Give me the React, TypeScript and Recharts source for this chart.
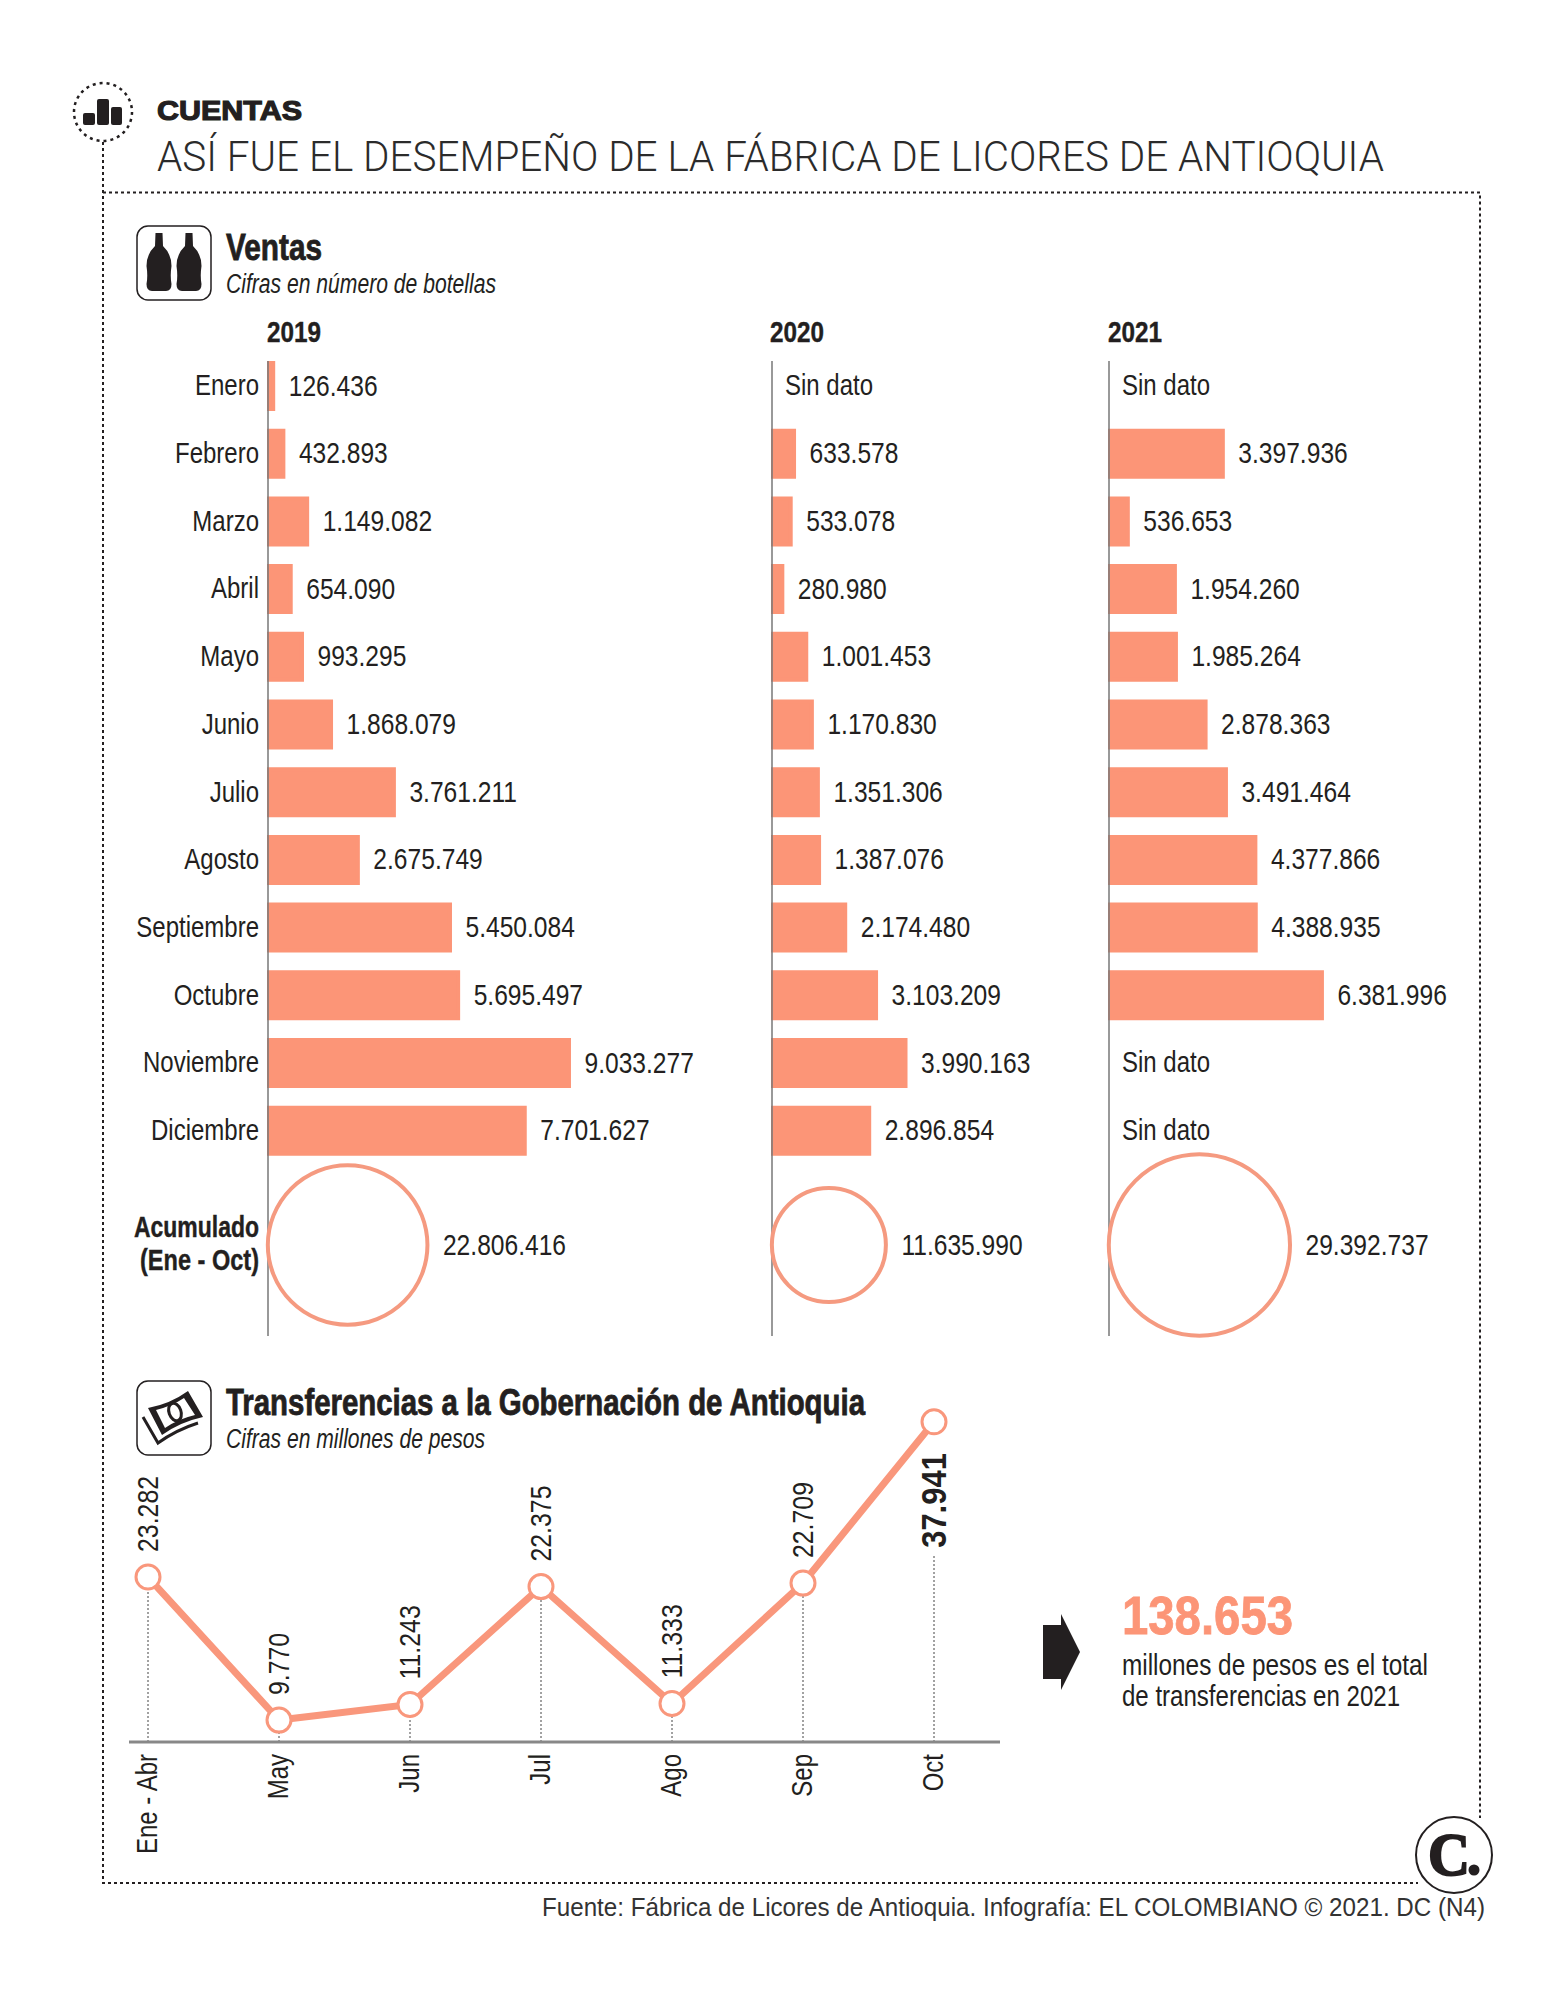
import { Bar, BarChart, LabelList, Line, LineChart, ReferenceLine, Scatter, ScatterChart, XAxis, YAxis, ZAxis } from "recharts";

const MONTHS = ["Enero", "Febrero", "Marzo", "Abril", "Mayo", "Junio", "Julio", "Agosto", "Septiembre", "Octubre", "Noviembre", "Diciembre"];
const SALES_2019 = [126436, 432893, 1149082, 654090, 993295, 1868079, 3761211, 2675749, 5450084, 5695497, 9033277, 7701627];
const SALES_2020 = [null, 633578, 533078, 280980, 1001453, 1170830, 1351306, 1387076, 2174480, 3103209, 3990163, 2896854];
const SALES_2021 = [null, 3397936, 536653, 1954260, 1985264, 2878363, 3491464, 4377866, 4388935, 6381996, null, null];
const TOTAL_2019 = 22806416;
const TOTAL_2020 = 11635990;
const TOTAL_2021 = 29392737;
const NO_DATA = "Sin dato";

const TRANSFER_MONTHS = ["Ene - Abr", "May", "Jun", "Jul", "Ago", "Sep", "Oct"];
const TRANSFERS = [23282, 9770, 11243, 22375, 11333, 22709, 37941];
const TRANSFER_TOTAL = 138653;

const SANS = "'Liberation Sans', sans-serif";
const SALMON = "#fc9577";
const RING = "#f59a80";
const INK = "#231f20";
const TEXT_SIZE = 30;
const SQUEEZE = 0.8;
const VALUE_SQUEEZE = 0.82;

const fmt = (v: number) => String(v).replace(/\B(?=(\d{3})+$)/g, ".");

// 33.2 px por millón de botellas en barras, área del círculo proporcional al total
const X_MAX = 13250000;
const PLOT_W = 440;
const Z_MAX = 40000000;
const Z_AREA = 35100;
const ROW_H = 67.7;

// no hay fuente condensada instalada: se comprime la Liberation Sans en horizontal
function SqueezedText({ x, y, children, anchor = "start", rotate = 0, size = TEXT_SIZE, weight = 400, squeeze = SQUEEZE }: any) {
  return (
    <text
      dy=".35em"
      textAnchor={anchor}
      transform={`translate(${x} ${y}) rotate(${rotate}) scale(${squeeze} 1)`}
      style={{ fontSize: size, fontWeight: weight, fontFamily: SANS, fill: INK }}
    >
      {children}
    </text>
  );
}

function MonthNameTick({ x, y, payload }: any) {
  return (
    <SqueezedText x={x + 4} y={y - 1} anchor="end">
      {payload.value}
    </SqueezedText>
  );
}

// en las columnas sin meses, el eje solo rotula las filas sin barra
function NoDataTick({ x, y, payload }: any) {
  if (payload.value !== NO_DATA) return null;
  return (
    <SqueezedText x={x + 26} y={y - 1}>
      {payload.value}
    </SqueezedText>
  );
}

function BarValueLabel({ x, y, width, height, value }: any) {
  return (
    <SqueezedText x={x + width + 15.5} y={y + height / 2 - 1} squeeze={VALUE_SQUEEZE}>
      {value}
    </SqueezedText>
  );
}

function SalesColumn({ x, values, total, labels }: { x: number; values: (number | null)[]; total: number; labels?: boolean }) {
  const axisW = labels ? 169 : 1;
  const rows = MONTHS.map((month, i) => ({
    month,
    value: values[i] ?? 0,
    label: values[i] == null ? NO_DATA : fmt(values[i] as number),
  }));
  const r = Math.sqrt(((total / Z_MAX) * Z_AREA) / Math.PI);
  const ring = [{ cx: r, cy: 884, size: total, label: fmt(total) }];
  return (
    <>
      <div style={{ position: "absolute", left: x + 2 - axisW, top: 352 }}>
        <BarChart
          width={axisW + PLOT_W}
          height={ROW_H * 12}
          layout="vertical"
          data={rows}
          margin={{ top: 0, right: 0, bottom: 0, left: 0 }}
          barCategoryGap={0}
        >
          <XAxis type="number" hide domain={[0, X_MAX]} />
          <YAxis
            type="category"
            dataKey={labels ? "month" : "label"}
            width={axisW}
            interval={0}
            axisLine={false}
            tickLine={false}
            tickMargin={8}
            tick={labels ? <MonthNameTick /> : <NoDataTick />}
          />
          <Bar dataKey="value" fill={SALMON} stroke={SALMON} strokeWidth={4} barSize={46} isAnimationActive={false}>
            <LabelList dataKey="label" content={<BarValueLabel />} />
          </Bar>
        </BarChart>
      </div>
      <div style={{ position: "absolute", left: x, top: 361 }}>
        <ScatterChart width={PLOT_W} height={975} margin={{ top: 0, right: 0, bottom: 0, left: 0 }}>
          <XAxis type="number" dataKey="cx" hide domain={[0, PLOT_W]} />
          <YAxis
            type="number"
            dataKey="cy"
            width={1}
            reversed
            domain={[0, 975]}
            tick={false}
            tickLine={false}
            axisLine={{ stroke: "#777", strokeWidth: 1.5 }}
          />
          <ZAxis type="number" dataKey="size" domain={[0, Z_MAX]} range={[0, Z_AREA]} />
          <Scatter data={ring} fill="none" stroke={RING} strokeWidth={4} isAnimationActive={false}>
            <LabelList dataKey="label" content={<BarValueLabel />} />
          </Scatter>
        </ScatterChart>
      </div>
    </>
  );
}

function MonthTick({ x, y, payload }: any) {
  return (
    <SqueezedText x={x - 2} y={y + 4} anchor="end" rotate={-90}>
      {payload.value}
    </SqueezedText>
  );
}

function PointLabel({ x, y, value, index }: any) {
  const last = index === TRANSFERS.length - 1;
  return (
    <SqueezedText x={x - 1} y={last ? y + 126 : y - 25} rotate={-90} size={last ? 36 : TEXT_SIZE} weight={last ? 700 : 400} squeeze={last ? 0.86 : 0.83}>
      {fmt(value)}
    </SqueezedText>
  );
}

function TransfersChart() {
  const data = TRANSFER_MONTHS.map((month, i) => ({ month, value: TRANSFERS[i] }));
  const base = 7700;
  return (
    <div style={{ position: "absolute", left: 129, top: 1400 }}>
      <LineChart width={871} height={460} data={data} margin={{ top: 0, right: 0, bottom: 0, left: 0 }}>
        <XAxis
          dataKey="month"
          interval={0}
          padding={{ left: 19, right: 66 }}
          axisLine={{ stroke: "#888", strokeWidth: 3 }}
          tickLine={false}
          tick={<MonthTick />}
          height={118}
        />
        <YAxis hide domain={[base, 40000]} />
        {data.map((d) => (
          <ReferenceLine
            key={d.month}
            segment={[
              { x: d.month, y: base },
              { x: d.month, y: Math.min(d.value, 25300) },
            ]}
            stroke="#444"
            strokeWidth={1}
            strokeDasharray="2 2"
          />
        ))}
        <Line
          dataKey="value"
          type="linear"
          stroke="#f9977c"
          strokeWidth={7}
          dot={{ r: 12, fill: "#fff", stroke: "#f9977c", strokeWidth: 3 }}
          isAnimationActive={false}
        >
          <LabelList dataKey="value" content={<PointLabel />} />
        </Line>
      </LineChart>
    </div>
  );
}

function Bottle({ cx }: { cx: number }) {
  return (
    <path
      d={`M${cx - 3.5} 233 L${cx + 3.5} 233 L${cx + 4} 246 Q${cx + 12.5} 254 ${cx + 12.5} 266 Q${cx + 11} 276 ${cx + 12.5} 284 Q${cx + 12.5} 291 ${cx + 7} 291 L${cx - 7} 291 Q${cx - 12.5} 291 ${cx - 12.5} 284 Q${cx - 11} 276 ${cx - 12.5} 266 Q${cx - 12.5} 254 ${cx - 4} 246 Z`}
      fill={INK}
    />
  );
}

function Backdrop() {
  const dotted = { stroke: INK, strokeWidth: 2, strokeDasharray: "3 3", fill: "none" };
  const heavy = { fontWeight: 700, fontFamily: SANS, fill: INK, stroke: INK, strokeWidth: 0.8 };
  const italic = { fontSize: 27, fontStyle: "italic", fontFamily: SANS, fill: INK };
  return (
    <svg width={1559} height={2000} style={{ position: "absolute", left: 0, top: 0 }}>
      {/* encabezado y marco punteado */}
      <circle cx={103} cy={112} r={29} stroke={INK} strokeWidth={2.5} strokeDasharray="3 4" fill="none" />
      <rect x={83} y={113} width={12} height={12} rx={2} fill={INK} />
      <rect x={97} y={99} width={12} height={26} rx={2} fill={INK} />
      <rect x={111} y={107} width={11} height={18} rx={2} fill={INK} />
      <path d="M103 142 L103 1883 L1418 1883 M103 192.5 L1480 192.5 L1480 1818" {...dotted} />
      <text x={157} y={120} textLength={145} lengthAdjust="spacingAndGlyphs" style={{ ...heavy, fontSize: 28, strokeWidth: 1.2 }}>
        CUENTAS
      </text>
      <text x={157} y={171} textLength={1227} lengthAdjust="spacingAndGlyphs" style={{ fontSize: 42, fontFamily: "Roboto, sans-serif", fontWeight: 300, fill: "#2b2b2b" }}>
        ASÍ FUE EL DESEMPEÑO DE LA FÁBRICA DE LICORES DE ANTIOQUIA
      </text>

      {/* Ventas */}
      <rect x={137} y={226} width={74} height={74} rx={11} fill="#fff" stroke={INK} strokeWidth={1.5} />
      <Bottle cx={159} />
      <Bottle cx={189} />
      <text x={226} y={260} textLength={96} lengthAdjust="spacingAndGlyphs" style={{ ...heavy, fontSize: 36 }}>
        Ventas
      </text>
      <text x={226} y={293} textLength={270} lengthAdjust="spacingAndGlyphs" style={italic}>
        Cifras en número de botellas
      </text>
      {[
        ["2019", 267],
        ["2020", 770],
        ["2021", 1108],
      ].map(([t, x]) => (
        <text key={t} x={x} y={342} textLength={54} lengthAdjust="spacingAndGlyphs" style={{ ...heavy, fontSize: 29, strokeWidth: 0.4 }}>
          {t}
        </text>
      ))}
      <text x={259} y={1237} textAnchor="end" textLength={125} lengthAdjust="spacingAndGlyphs" style={{ ...heavy, fontSize: 29, strokeWidth: 0.4 }}>
        Acumulado
      </text>
      <text x={259} y={1270} textAnchor="end" textLength={119} lengthAdjust="spacingAndGlyphs" style={{ ...heavy, fontSize: 29, strokeWidth: 0.4 }}>
        (Ene - Oct)
      </text>

      {/* Transferencias */}
      <rect x={137} y={1381} width={74} height={74} rx={11} fill="#fff" stroke={INK} strokeWidth={1.5} />
      <path d="M143 1417 L158 1443 Q176 1430 198 1423" fill="none" stroke={INK} strokeWidth={3} />
      <path d="M148 1408 Q170 1404 188 1391 L203 1417 Q180 1422 162 1435 Z" fill={INK} />
      <path d="M156 1410 Q172 1406 184 1398 L195 1415 Q178 1419 165 1428 Z" fill="#fff" />
      <ellipse cx={175} cy={1412} rx={6} ry={9} fill="none" stroke={INK} strokeWidth={3} transform="rotate(-20 175 1412)" />
      <text x={226} y={1415} textLength={639} lengthAdjust="spacingAndGlyphs" style={{ ...heavy, fontSize: 36 }}>
        Transferencias a la Gobernación de Antioquia
      </text>
      <text x={226} y={1448} textLength={259} lengthAdjust="spacingAndGlyphs" style={italic}>
        Cifras en millones de pesos
      </text>

      {/* total */}
      <path d="M1043 1625 L1061 1625 L1061 1614 L1080 1652 L1061 1690 L1061 1679 L1043 1679 Z" fill={INK} />
      <text x={1122} y={1634} textLength={171} lengthAdjust="spacingAndGlyphs" style={{ ...heavy, fontSize: 54, fill: SALMON, stroke: SALMON }}>
        {fmt(TRANSFER_TOTAL)}
      </text>
      <text x={1122} y={1675} textLength={306} lengthAdjust="spacingAndGlyphs" style={{ fontSize: 29, fontFamily: SANS, fill: INK }}>
        millones de pesos es el total
      </text>
      <text x={1122} y={1706} textLength={278} lengthAdjust="spacingAndGlyphs" style={{ fontSize: 29, fontFamily: SANS, fill: INK }}>
        de transferencias en 2021
      </text>

      {/* logo y fuente */}
      <circle cx={1454} cy={1855} r={38} fill="#fff" stroke={INK} strokeWidth={2} />
      <text x={1428} y={1875} textLength={42} lengthAdjust="spacingAndGlyphs" style={{ fontSize: 62, fontWeight: 700, fontFamily: "'Liberation Serif', serif", fill: INK, stroke: INK, strokeWidth: 2 }}>
        C
      </text>
      <circle cx={1474} cy={1870} r={5.5} fill={INK} />
      <text x={542} y={1916} textLength={943} lengthAdjust="spacingAndGlyphs" style={{ fontSize: 25, fontFamily: SANS, fill: "#333" }}>
        Fuente: Fábrica de Licores de Antioquia. Infografía: EL COLOMBIANO © 2021. DC (N4)
      </text>
    </svg>
  );
}

export default function App() {
  return (
    <div style={{ position: "absolute", left: 0, top: 0, width: 1559, height: 2000, background: "#fff", fontFamily: SANS }}>
      <style>{`.recharts-surface { overflow: visible; }`}</style>
      <Backdrop />
      <SalesColumn x={267} values={SALES_2019} total={TOTAL_2019} labels />
      <SalesColumn x={771} values={SALES_2020} total={TOTAL_2020} />
      <SalesColumn x={1108} values={SALES_2021} total={TOTAL_2021} />
      <TransfersChart />
    </div>
  );
}
